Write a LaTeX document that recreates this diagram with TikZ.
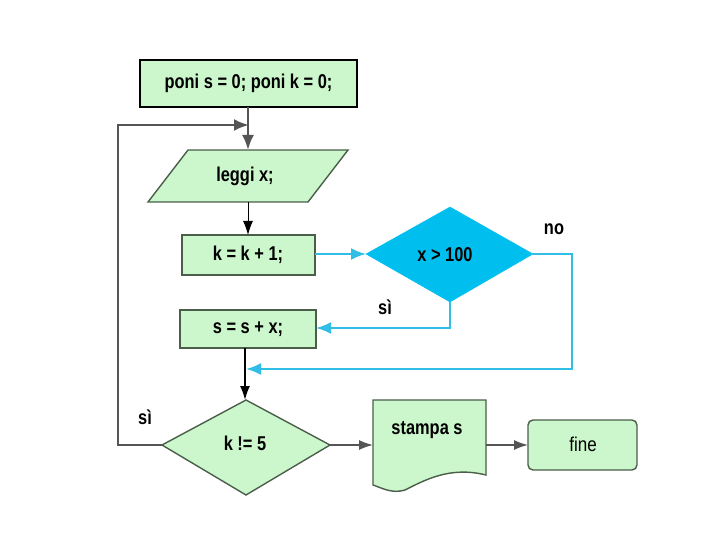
\documentclass[tikz,border=0pt]{standalone}
\usepackage{fontspec}
\setmainfont{Liberation Sans}[FakeStretch=0.82]
\newfontfamily\plainfont{Liberation Sans}[FakeStretch=0.85]
\usetikzlibrary{shapes.geometric,arrows.meta}
\definecolor{lgreen}{HTML}{CCF7CC}
\definecolor{gborder}{HTML}{4A5E4A}
\definecolor{cyanf}{HTML}{00BFEF}
\definecolor{cyanl}{HTML}{30BDE6}
\definecolor{glines}{HTML}{555555}
\tikzset{
  lbl/.style={font=\fontsize{20}{23}\selectfont\bfseries},
  flow/.style={draw=black, line width=1pt, -{Latex[length=14pt,width=10pt]}},
  gflow/.style={draw=glines, line width=2.6pt, -{Latex[length=15pt,width=12pt]}},
  cflow/.style={draw=cyanl, line width=2.2pt, -{Latex[length=15pt,width=12pt]}},
  gbox/.style={draw=gborder, fill=lgreen, line width=1.4pt},
}
\begin{document}
\begin{tikzpicture}[x=1pt,y=-1pt]
\useasboundingbox (0,0) rectangle (720,540);
% start box
\draw[gbox, draw=black, line width=1.8pt] (140,60) rectangle (357,107);
\node[lbl] (start) at (248.5,83.5) {poni s = 0; poni k = 0;};
\coordinate (startb) at (248,107);
% parallelogram
\draw[gbox] (188,150) -- (348,150) -- (308,202) -- (148,202) -- cycle;
\node[lbl] (read) at (245,176) {leggi x;};
\coordinate (readt) at (248,150);
\coordinate (readb) at (248,202);
% k = k + 1
\draw[gbox] (182,235) rectangle (315,275);
\node[lbl] (inc) at (248,255) {k = k + 1;};
\coordinate (inct) at (248,235);
\coordinate (incr) at (315,254);
% diamond x>100
\draw[fill=cyanf, draw=cyanf] (366,254) -- (450,207) -- (533,254) -- (450,302) -- cycle;
\node[lbl] (test) at (445,255) {x > 100};
\coordinate (testl) at (366,254);
\coordinate (testr) at (533,254);
\coordinate (testb) at (450,302);
\node[lbl] (no) at (554,229) {no};
\node[lbl] (si1) at (385,307) {sì};
% s = s + x
\draw[gbox] (180,310) rectangle (316,348);
\node[lbl] (sum) at (248,329) {s = s + x;};
\coordinate (sumr) at (316,328);
\coordinate (sumb) at (245,348);
% diamond k != 5
\draw[gbox] (162,445) -- (246,400) -- (330,445) -- (246,495) -- cycle;
\node[lbl] (loop) at (245,443) {k != 5};
\coordinate (loopt) at (245,400);
\coordinate (loopl) at (162,445);
\coordinate (loopr) at (330,445);
\node[lbl] (si2) at (145,417) {sì};
% document
\draw[gbox] (373,400) -- (486,400) -- (486,475)
  .. controls (450,466) and (425,480) .. (405,490)
  .. controls (392,494) and (382,488) .. (373,485) -- cycle;
\node[lbl] (print) at (427,430) {stampa s};
\coordinate (printl) at (373,445);
\coordinate (printr) at (486,445);
% fine
\draw[gbox, rounded corners=5pt] (528,420) rectangle (637,470);
\node[font=\fontsize{20}{23}\selectfont\plainfont] (end) at (583,444) {fine};
\coordinate (endl) at (528,445);
% connectors
\draw[gflow] (startb) -- (readt);
\draw[gflow] (loopl) -- (118,445) -- (118,125) -- (249,125);
\draw[flow] (readb) -- (inct);
\draw[cflow] (incr) -- (testl);
\draw[cflow] (testb) -- (450,328) -- (sumr);
\draw[cflow] (testr) -- (572,254) -- (572,369) -- (246,369);
\draw[flow, line width=1.6pt] (sumb) -- (loopt);
\draw[flow, draw=glines, line width=1.4pt] (loopr) -- (printl);
\draw[flow, draw=glines, line width=1.4pt] (printr) -- (endl);
\end{tikzpicture}
\end{document}
